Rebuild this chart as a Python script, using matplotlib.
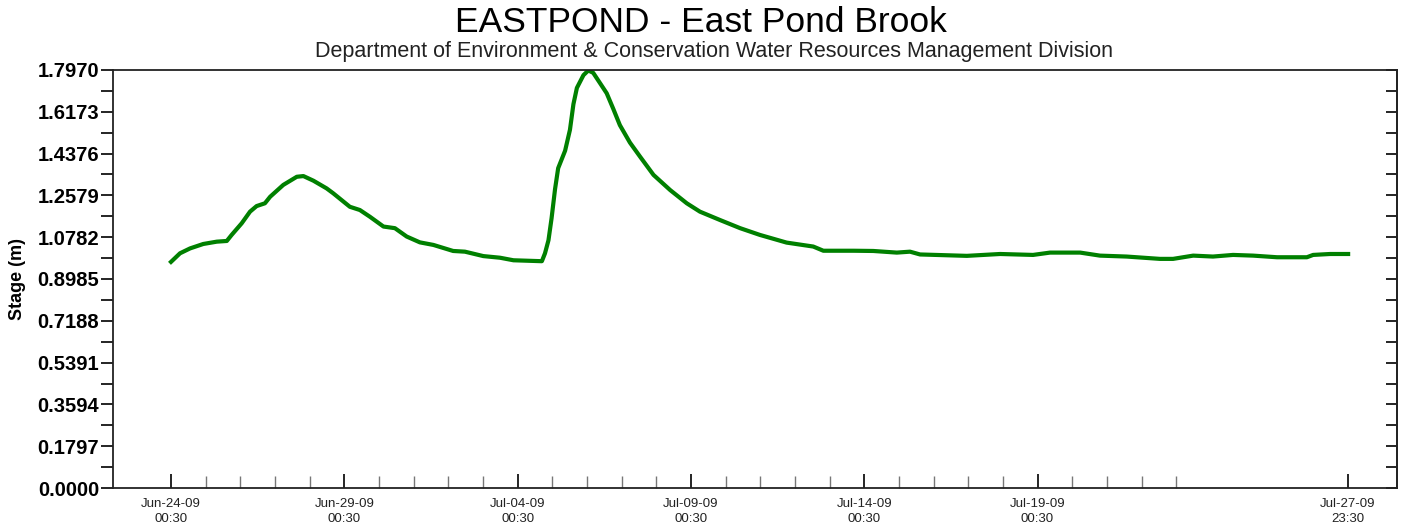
import matplotlib
matplotlib.use("Agg")
import matplotlib.pyplot as plt
from matplotlib.ticker import FixedLocator, NullFormatter

# ---- data (days since Jun-24-09 00:30, stage in m) ----
days = [0.00, 0.26, 0.55, 0.93, 1.32, 1.61, 1.75, 2.04, 2.28, 2.47, 2.71, 2.86,
        3.24, 3.63, 3.82, 4.11, 4.49, 4.68, 5.16, 5.45, 5.74, 6.13, 6.46, 6.80,
        7.18, 7.57, 8.14, 8.48, 9.01, 9.49, 9.88, 10.70, 10.79, 10.89, 10.98,
        11.08, 11.17, 11.37, 11.51, 11.61, 11.71, 11.90, 12.04, 12.18, 12.38,
        12.57, 12.76, 12.95, 13.24, 13.53, 13.92, 14.40, 14.88, 15.26, 15.84,
        16.42, 16.99, 17.76, 18.53, 18.82, 19.69, 20.26, 20.94, 21.32, 21.61,
        22.96, 23.92, 24.87, 25.36, 26.23, 26.80, 27.57, 28.53, 28.91, 29.49,
        30.06, 30.64, 31.22, 31.91, 32.77, 32.95, 33.44, 33.96]
stage = [0.972, 1.009, 1.030, 1.049, 1.059, 1.062, 1.088, 1.138, 1.188, 1.212,
         1.224, 1.252, 1.303, 1.338, 1.341, 1.321, 1.288, 1.267, 1.209, 1.195,
         1.166, 1.124, 1.117, 1.081, 1.056, 1.045, 1.019, 1.016, 0.997, 0.990,
         0.979, 0.975, 1.009, 1.065, 1.160, 1.285, 1.375, 1.450, 1.540, 1.650,
         1.720, 1.775, 1.795, 1.785, 1.740, 1.697, 1.630, 1.560, 1.485, 1.425,
         1.346, 1.281, 1.224, 1.188, 1.152, 1.117, 1.088, 1.055, 1.038, 1.020,
         1.020, 1.019, 1.012, 1.016, 1.004, 0.998, 1.006, 1.002, 1.012, 1.012,
         0.999, 0.995, 0.985, 0.985, 0.999, 0.995, 1.002, 0.999, 0.992, 0.992,
         1.002, 1.006, 1.006]

xtick_pos = [0, 5, 10, 15, 20, 25, 33.958]
xtick_labels = ["Jun-24-09\n00:30", "Jun-29-09\n00:30", "Jul-04-09\n00:30",
                "Jul-09-09\n00:30", "Jul-14-09\n00:30", "Jul-19-09\n00:30",
                "Jul-27-09\n23:30"]
xminor_pos = list(range(1, 30))
ytick_labels = ["0.0000", "0.1797", "0.3594", "0.5391", "0.7188", "0.8985",
                "1.0782", "1.2579", "1.4376", "1.6173", "1.7970"]

plt.rcParams['font.family'] = ['Liberation Sans', 'DejaVu Sans']

fig = plt.figure(figsize=(14.11, 5.27), dpi=100)
ax = fig.add_axes([113/1411, 39/527, (1397-113)/1411, (488-70)/527])

ax.plot(days, stage, color="#008000", linewidth=3.0, solid_joinstyle="round")

ax.set_xlim(-1.673, 35.37)
ax.set_ylim(0, 1.797)

yvals = [float(s) for s in ytick_labels]
yminor = [(yvals[i] + yvals[i+1]) / 2 for i in range(len(yvals) - 1)]
ax.yaxis.set_major_locator(FixedLocator(yvals))
ax.set_yticklabels(ytick_labels, fontsize=14.5, fontweight="bold")
ax.yaxis.set_minor_locator(FixedLocator(yminor))
ax.tick_params(axis="y", which="both", direction="out", length=9, width=1.2,
               right=False, pad=1)

# right-hand inward ticks
sec = ax.secondary_yaxis("right")
sec.yaxis.set_major_locator(FixedLocator(yvals))
sec.yaxis.set_minor_locator(FixedLocator(yminor))
sec.yaxis.set_major_formatter(NullFormatter())
sec.yaxis.set_minor_formatter(NullFormatter())
sec.tick_params(axis="y", which="both", direction="in", length=8, width=1.2)
sec.spines["right"].set_linewidth(1.3)
sec.spines["right"].set_color("#222222")

ax.xaxis.set_major_locator(FixedLocator(xtick_pos))
ax.set_xticklabels(xtick_labels, fontsize=9.5, color="#222222", linespacing=1.35)
ax.xaxis.set_minor_locator(FixedLocator(xminor_pos))
ax.xaxis.set_minor_formatter(NullFormatter())
ax.tick_params(axis="x", which="major", direction="in", length=10, width=1.2, pad=7)
ax.tick_params(axis="x", which="minor", direction="in", length=9, width=1.0,
               color="#777777")

for s in ax.spines.values():
    s.set_linewidth(1.3)
    s.set_color("#222222")

ax.set_ylabel("Stage (m)", fontsize=13, fontweight="bold", labelpad=8)

fig.text(0.497, 0.958, "EASTPOND - East Pond Brook", ha="center", va="center",
         fontsize=25.5)
fig.text(0.506, 0.903, "Department of Environment & Conservation Water Resources Management Division",
         ha="center", va="center", fontsize=15.5, color="#222222")

fig.savefig("out.png", dpi=100)
